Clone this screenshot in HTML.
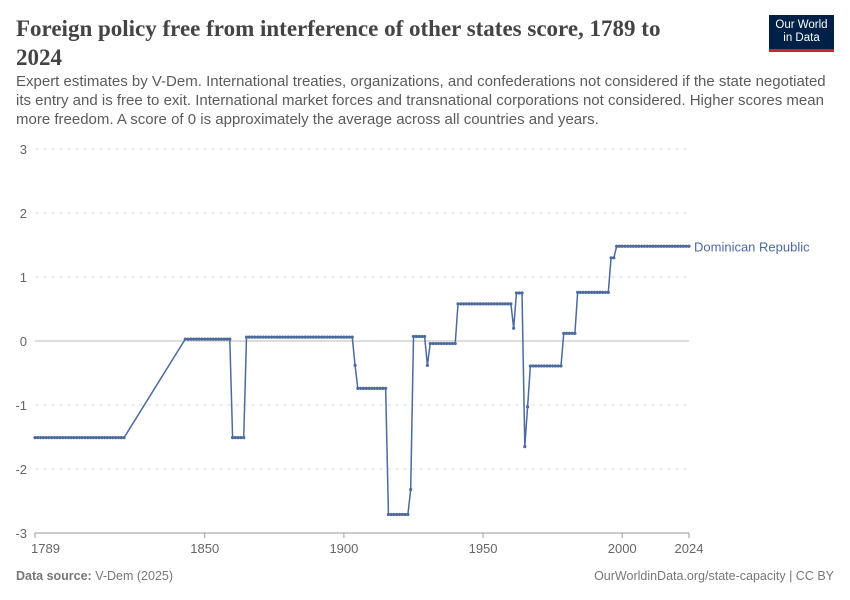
<!DOCTYPE html>
<html><head><meta charset="utf-8">
<style>
body{margin:0;width:850px;height:600px;background:#fff;font-family:"Liberation Sans",sans-serif;overflow:hidden;position:relative}
#title{position:absolute;left:16px;top:14px;width:660px;font-family:"Liberation Serif",serif;font-size:23px;line-height:29px;color:#444;font-weight:bold;margin:0}
#sub{position:absolute;left:16px;top:72px;width:815px;font-size:15px;line-height:19px;color:#5b5b5b;margin:0}
#logo{position:absolute;left:769px;top:15px;width:65px;height:37px;background:#002147;color:#fff;font-size:11.5px;line-height:13px;text-align:center;padding-top:4px;box-sizing:border-box}
#logo:after{content:"";position:absolute;left:0;right:0;bottom:0;height:3px;background:#ce261e}
.foot{position:absolute;top:569px;font-size:12.5px;color:#777}
</style></head><body>
<h1 id="title">Foreign policy free from interference of other states score, 1789 to 2024</h1>
<p id="sub">Expert estimates by V-Dem. International treaties, organizations, and confederations not considered if the state negotiated its entry and is free to exit. International market forces and transnational corporations not considered. Higher scores mean more freedom. A score of 0 is approximately the average across all countries and years.</p>
<div id="logo">Our World<br>in Data</div>
<svg id="chart" width="850" height="600" style="position:absolute;left:0;top:0"></svg>
<div class="foot" style="left:16px"><b>Data source:</b> V-Dem (2025)</div>
<div class="foot" style="right:16px">OurWorldinData.org/state-capacity | CC BY</div>
<script>
const runStarts=[1789,1843,1860,1865,1904,1905,1916,1924,1925,1930,1931,1941,1961,1962,1965,1966,1967,1979,1984,1996,1998];
const runEnds  =[1821,1859,1864,1903,1904,1915,1923,1924,1929,1930,1940,1960,1961,1964,1965,1966,1978,1983,1995,1997,2024];
const runValues=[-1.51,0.03,-1.51,0.06,-0.38,-0.74,-2.71,-2.32,0.07,-0.38,-0.04,0.58,0.2,0.75,-1.65,-1.03,-0.39,0.12,0.76,1.3,1.48];
const yTicks=[3,2,1,0,-1,-2,-3];
const xTicks=[1789,1850,1900,1950,2000,2024];
const NS="http://www.w3.org/2000/svg";
const svg=document.getElementById('chart');
const x0=35,x1=689,y0=149,y1=533;
const X=y=>x0+(y-1789)/(2024-1789)*(x1-x0);
const Y=v=>y1-(v+3)/6*(y1-y0);
function mk(t,a){const e=document.createElementNS(NS,t);for(const k in a)e.setAttribute(k,a[k]);svg.appendChild(e);return e;}
yTicks.forEach(t=>{
 const l=mk('line',{x1:x0,x2:x1,y1:Y(t),y2:Y(t),stroke:t===0?'#bbb':'#ddd','stroke-dasharray':t===0?'':'4,4','stroke-width':1});
 
 
 const tx=mk('text',{x:27,y:Y(t)+5,'text-anchor':'end','font-size':13,fill:'#666','font-family':'Liberation Sans'});
 tx.textContent=t;
 
 
});
const ax=mk('line',{x1:x0,x2:x1,y1:y1,y2:y1,stroke:'#999'});


xTicks.forEach((t,i)=>{
 const tk=mk('line',{x1:X(t),x2:X(t),y1:y1,y2:y1+5,stroke:'#999'});
 
 
 const tx=mk('text',{x:i===0?X(t)-4:X(t),y:y1+20,'text-anchor':i===0?'start':'middle','font-size':13,fill:'#666','font-family':'Liberation Sans'});
 tx.textContent=t;
 
 
});
const pts=[];
runStarts.forEach((s,i)=>{for(let yr=s;yr<=runEnds[i];yr++)pts.push([yr,runValues[i]]);});
const line=mk('polyline',{points:pts.map(p=>X(p[0])+','+Y(p[1])).join(' '),fill:'none',stroke:'#4c6a9c','stroke-width':1.5});


pts.forEach(p=>{
 const c=mk('circle',{cx:X(p[0]),cy:Y(p[1]),r:1.6,fill:'#4c6a9c'});
 
 
});
const last=pts[pts.length-1];
const lb=mk('text',{x:X(last[0])+5,y:Y(last[1])+5,'font-size':13,fill:'#4c6a9c','font-family':'Liberation Sans'});
lb.textContent='Dominican Republic';


</script>
</body></html>
